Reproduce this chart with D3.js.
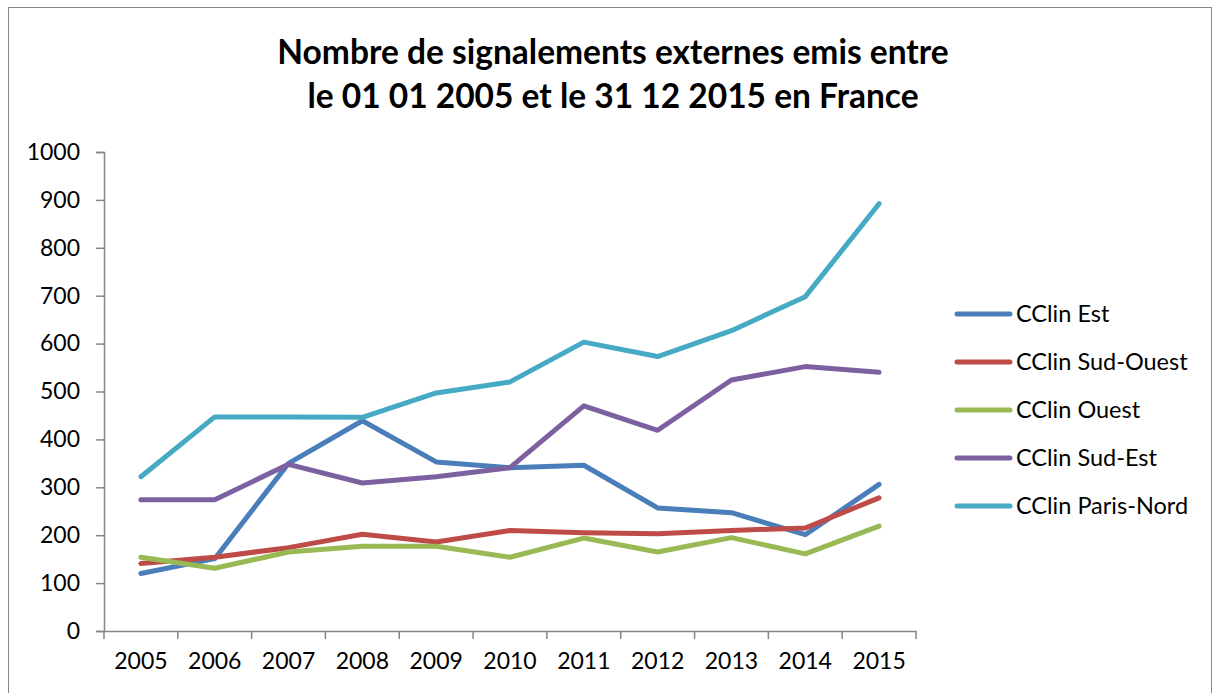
<!DOCTYPE html>
<html>
<head>
<meta charset="utf-8">
<script src="https://cdn.jsdelivr.net/npm/d3@7"></script>
<style>
  body { margin: 0; background: #fff; }
  svg { font-family: Lato, "Open Sans", sans-serif; }
</style>
</head>
<body>
<svg id="chart" width="1214" height="693"></svg>
<script>
// categories + series
var years = ["2005", "2006", "2007", "2008", "2009", "2010", "2011", "2012", "2013", "2014", "2015"];
var est       = [120, 151, 350, 439, 353, 341, 346, 257, 247, 201, 306];
var sudOuest  = [141, 154, 174, 202, 186, 210, 205, 203, 210, 215, 278];
var ouest     = [154, 131, 165, 177, 177, 154, 194, 165, 195, 161, 219];
var sudEst    = [274, 274, 348, 309, 322, 341, 470, 419, 524, 552, 540];
var parisNord = [322, 447, 447, 446, 497, 520, 603, 573, 627, 698, 892];
var seriesNames = ["CClin Est", "CClin Sud-Ouest", "CClin Ouest", "CClin Sud-Est", "CClin Paris-Nord"];
var colors = ["#4a7ebb", "#be4b48", "#98b954", "#7d60a0", "#46aac5"];
var yTicks = [0, 100, 200, 300, 400, 500, 600, 700, 800, 900, 1000];
var titleLines = ["Nombre de signalements externes emis entre", "le 01 01 2005 et le 31 12 2015 en France"];

var series = [est, sudOuest, ouest, sudEst, parisNord].map(function (v, i) {
    return { name: seriesNames[i], color: colors[i], values: v };
});

var svg = d3.select("#chart");
var axisColor = "#868686";

// outer chart border
svg.append("rect")
    .attr("x", 8.5).attr("y", 7.5)
    .attr("width", 1203).attr("height", 700)
    .attr("fill", "none")
    .attr("stroke", axisColor)
    .attr("stroke-width", 1);

// title
var title = svg.append("text")
    .attr("text-anchor", "middle")
    .attr("font-weight", "bold")
    .attr("font-size", 33.5)
    .attr("fill", "#000");
title.selectAll("tspan")
    .data(titleLines)
    .enter().append("tspan")
    .attr("x", 613)
    .attr("y", function (d, i) { return 64 + i * 44; })
    .text(function (d) { return d; });

// scales (plot box)
var plotL = 104, plotR = 916, plotT = 152, plotB = 631;
var x = d3.scaleBand().domain(years).range([plotL, plotR]);
var y = d3.scaleLinear().domain([0, 1000]).range([plotB, plotT]);

// y axis
var yAxis = svg.append("g")
    .attr("transform", "translate(" + plotL + ",0)")
    .call(d3.axisLeft(y).tickValues(yTicks).tickSize(8).tickPadding(16).tickFormat(d3.format("d")));
yAxis.selectAll("text").attr("font-size", 23).attr("fill", "#000").attr("font-family", "Lato, sans-serif");

// x axis, ticks sit on category boundaries like excel
var xAxis = svg.append("g")
    .attr("transform", "translate(0," + plotB + ")")
    .call(d3.axisBottom(x).tickSize(0).tickPadding(22));
xAxis.selectAll("text").attr("font-size", 23).attr("fill", "#000").attr("font-family", "Lato, sans-serif");
xAxis.selectAll(".bound")
    .data(years.concat(["end"]))
    .enter().append("line")
    .attr("class", "bound")
    .attr("x1", function (d, i) { return plotL + i * x.step(); })
    .attr("x2", function (d, i) { return plotL + i * x.step(); })
    .attr("y1", 0).attr("y2", 8);

svg.selectAll(".domain, .tick line, .bound")
    .attr("stroke", axisColor)
    .attr("stroke-width", 1.5);

// lines
var line = d3.line()
    .x(function (d, i) { return x(years[i]) + x.bandwidth() / 2; })
    .y(function (d) { return y(d); });

svg.selectAll(".series")
    .data(series)
    .enter().append("path")
    .attr("class", "series")
    .attr("d", function (d) { return line(d.values); })
    .attr("fill", "none")
    .attr("stroke", function (d) { return d.color; })
    .attr("stroke-width", 5)
    .attr("stroke-linejoin", "round")
    .attr("stroke-linecap", "round");

// legend
var legend = svg.selectAll(".legend")
    .data(series)
    .enter().append("g")
    .attr("class", "legend")
    .attr("transform", function (d, i) { return "translate(957," + (314 + i * 48) + ")"; });

legend.append("line")
    .attr("x1", 0).attr("x2", 53)
    .attr("stroke", function (d) { return d.color; })
    .attr("stroke-width", 5)
    .attr("stroke-linecap", "round");

legend.append("text")
    .attr("x", 59)
    .attr("dy", "0.35em")
    .attr("font-size", 23.5)
    .attr("fill", "#000")
    .text(function (d) { return d.name; });
</script>
</body>
</html>
